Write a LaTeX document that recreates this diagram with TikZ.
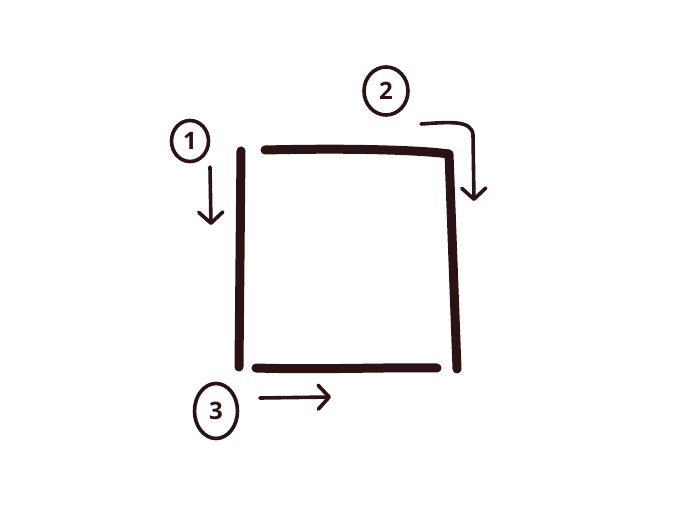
\documentclass[tikz,border=0pt]{standalone}
\usepackage{fontspec}
\setsansfont{Open Sans}
\usetikzlibrary{arrows.meta,shapes.geometric}
\definecolor{ink}{HTML}{2B1214}
\tikzset{
  stroke/.style={draw=ink,line width=9pt,line cap=round,line join=round},
  hint/.style={draw=ink,line width=3.6pt,line cap=round,line join=round,
    -{Straight Barb[length=11pt,width=24pt,round]}},
  num/.style={ellipse,draw=ink,line width=3.6pt,text=ink,inner sep=0pt,
    font=\sffamily\bfseries\fontsize{24}{24}\selectfont},
}
\begin{document}
\begin{tikzpicture}[x=1pt,y=-1pt]
\useasboundingbox (0,0) rectangle (680,510);
% square strokes
\coordinate (l1) at (241,151);
\coordinate (l2) at (239,367);
\coordinate (t1) at (265,150);
\coordinate (t2) at (449,154);
\coordinate (t3) at (457,369);
\coordinate (b1) at (256,368);
\coordinate (b2) at (437,368);
\draw[stroke] (l1) -- (l2);
\draw[stroke] (t1) .. controls (350,148) and (420,150) .. (t2) -- (t3);
\draw[stroke] (b1) .. controls (320,370) and (390,367) .. (b2);
% numbered circles
\node[num,minimum width=37pt,minimum height=41pt] (n1) at (190,141) {1};
\node[num,minimum width=44pt,minimum height=48pt] (n2) at (386,91) {2};
\node[num,minimum width=43pt,minimum height=55pt] (n3) at (216,411) {3};
% direction arrows
\coordinate (a1s) at (210,167);
\coordinate (a1e) at (211,225);
\coordinate (a2s) at (421,124);
\coordinate (a2e) at (474,201);
\coordinate (a3s) at (260,398);
\coordinate (a3e) at (331,397);
\draw[hint] (a1s) -- (a1e);
\draw[hint] (a2s) .. controls (450,122) and (472,120) .. (473,135) -- (a2e);
\draw[hint] (a3s) -- (a3e);
\end{tikzpicture}
\end{document}
